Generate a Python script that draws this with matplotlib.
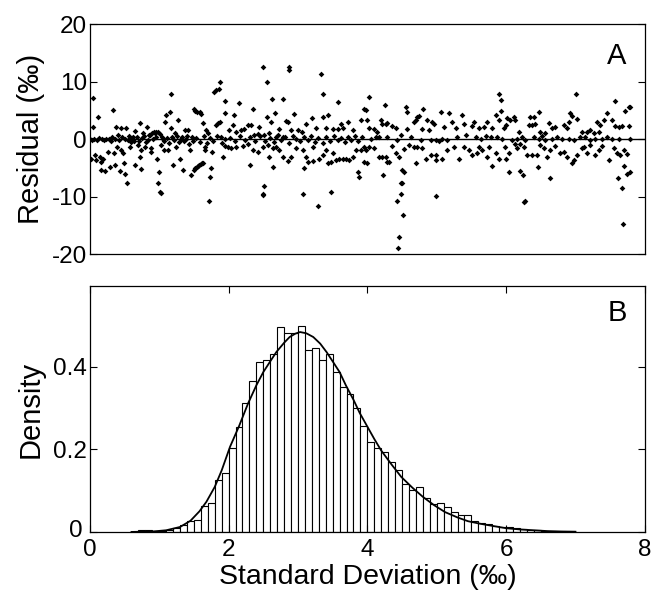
import numpy as np
import matplotlib
matplotlib.use("Agg")
import matplotlib.pyplot as plt
import matplotlib.transforms as mtransforms

plt.rcParams['font.family'] = ['Liberation Sans', 'DejaVu Sans']
plt.rcParams['axes.unicode_minus'] = False

# ---- panel A: residuals (sample number, residual in permil) ----
seg1 = [(3, 7.2), (3, 2.1), (8, 3.9), (1, -3.4), (5, -2.8), (6, -3.6), (10, -3.1), (11, -3.9),
        (13, -3.4), (11, -5.4), (15, -5.5), (18, -2.2), (20, -4.8), (23, 5.0), (25, -4.5),
        (24, -2.5), (26, 2.1), (28, 0.7), (27, -1.3), (30, -5.6), (31, 1.9), (31, -1.9),
        (33, -2.5), (34, -4.1), (35, -6.0), (36, 2.0), (37, -7.7), (38, -0.2), (40, -1.3),
        (41, -0.5), (43, 0.4), (45, -4.5), (45, 1.4), (48, -1.0), (50, 2.8), (50, -3.1),
        (51, -1.9), (51, -5.2), (53, 1.0), (55, -1.3), (57, 2.1), (58, -0.2), (60, 0.7),
        (61, -1.6), (61, -2.2), (63, 0.0), (65, 1.1), (66, 0.4), (67, -3.4), (68, -7.6),
        (69, -5.7), (70, -9.2), (71, -9.4), (71, -1.0), (73, 0.0), (74, -1.9), (75, 3.0),
        (76, 4.2), (78, -1.9), (80, 4.8), (81, 7.9), (81, 1.9), (83, -4.5), (85, 1.0),
        (86, -1.3), (88, 3.3), (90, -3.4), (91, 0.1), (93, -5.4), (95, 1.6), (96, 0.1),
        (98, 1.6), (100, -1.9), (101, -6.3), (104, -5.3), (105, -5.1), (107, -4.9),
        (108, -4.7), (109, -4.5), (111, -4.3), (112, -4.2), (113, -4.1), (104, 5.3),
        (105, 4.9), (107, 4.8), (110, 4.8), (111, 4.3), (113, 2.8), (115, -1.3), (116, 1.6),
        (115, -1.9), (118, 1.0), (119, -10.8), (120, -6.6), (121, -5.1), (122, -2.2),
        (124, 8.2), (126, 8.6), (129, 8.8), (130, 10.0), (126, 2.4), (128, 2.8), (130, 3.0),
        (131, 0.4), (133, -3.1), (135, 6.6), (135, 4.5), (135, 0.0), (135, -1.2)]

band1 = [(0, 0.0), (2, -0.2), (4, 0.1), (7, -0.1), (9, 0.2), (12, 0.0), (14, -0.2), (16, 0.1),
         (19, 0.0), (21, -0.3), (22, 0.3), (25, 0.1), (29, -0.2), (32, 0.3), (35, 0.1),
         (39, 0.5), (42, 0.2), (44, -0.4), (47, 0.3), (49, -0.4), (52, 0.2), (54, 0.6),
         (56, -0.5), (59, 0.8), (62, 1.0), (64, 1.2), (66, 1.3), (68, 1.2), (70, 0.9),
         (72, 0.4), (74, -0.3), (77, 0.2), (79, -0.6), (82, 0.3), (84, -0.2), (87, 0.6),
         (89, -0.5), (92, 0.4), (94, -0.3), (97, 0.5), (99, -0.8), (102, 0.3), (103, -0.4),
         (106, 0.2), (110, -0.5), (114, 0.5), (117, -0.6), (120, 0.2), (123, -0.4),
         (127, 0.5), (132, -0.7)]

seg2 = [(173, 12.5), (199, 12.5), (199, 12.1), (177, 9.9), (182, 7.0), (193, 7.0), (231, 11.4),
        (233, 7.9), (248, 6.5), (149, 6.2), (163, 5.2), (144, 4.2), (185, 4.5), (204, 4.3),
        (222, 3.7), (233, 3.9), (238, 4.2), (177, 3.8), (181, 3.0), (196, 3.1), (198, 3.0),
        (216, 2.7), (251, 2.7), (258, 3.0), (271, 3.3), (274, 5.2), (143, 2.4), (158, 2.4),
        (161, 2.4), (169, 2.1), (189, 1.7), (201, 1.5), (208, 1.5), (212, 1.3), (226, 2.0),
        (236, 2.0), (243, 1.7), (248, 1.7), (253, 2.0), (263, 1.6), (139, 1.5), (146, 1.3),
        (151, 1.6), (154, 1.7), (164, 0.7), (168, 0.9), (174, 0.7), (179, 1.0), (186, 0.4),
        (193, 0.4), (138, -1.3), (141, -1.6), (146, -1.3), (153, -1.2), (158, -0.8),
        (163, -1.9), (168, -2.2), (173, -1.3), (178, -1.0), (183, -1.6), (186, -1.3),
        (189, -1.9), (179, -3.1), (193, -3.1), (201, -3.1), (198, -3.8), (206, -1.6),
        (213, -1.9), (216, -3.1), (218, -3.9), (223, -1.3), (223, -3.8), (229, -3.4),
        (233, -2.8), (236, -1.9), (238, -4.2), (243, -2.5), (241, -3.9), (246, -3.7),
        (249, -3.4), (253, -3.4), (256, -3.4), (259, -3.7), (263, -3.1), (266, -1.9),
        (268, -5.7), (269, -6.6), (271, -1.9), (274, -1.3), (160, -4.5), (183, -4.8),
        (214, -5.1), (174, -8.1), (173, -9.5), (173, -9.7), (213, -9.5), (228, -11.6),
        (241, -9.2), (274, -3.9)]

band2 = [(140, 0.2), (145, -0.3), (150, 0.5), (155, -0.2), (160, 0.3), (165, -0.4), (170, 0.6),
         (175, -0.3), (180, 0.2), (184, -0.5), (188, 0.8), (191, -0.2), (195, 0.3), (199, -0.6),
         (203, 0.5), (206, 0.1), (210, -0.4), (214, 0.3), (218, -0.2), (221, 0.6), (225, -0.5),
         (228, 0.2), (233, -0.6), (236, 0.4), (240, -0.3), (244, 0.5), (248, -0.2), (251, 0.2),
         (255, -0.5), (258, 0.4), (261, -0.2), (265, 0.6), (268, -0.4), (272, 0.3)]

seg3 = [(279, 7.3), (295, 5.9), (276, 5.0), (277, 3.3), (291, 3.4), (292, 2.7), (296, 2.7),
        (297, 2.8), (316, 5.6), (317, 4.8), (333, 5.2), (351, 4.8), (359, 4.5), (372, 4.2),
        (409, 7.9), (411, 6.8), (406, 4.2), (411, 4.9), (324, 3.0), (327, 3.9), (329, 4.0),
        (326, 3.3), (337, 3.3), (342, 3.0), (344, 2.7), (354, 2.1), (362, 3.0), (366, 1.9),
        (374, 2.7), (382, 2.3), (384, 3.0), (389, 2.0), (394, 2.1), (397, 3.0), (402, 2.0),
        (409, 3.3), (279, 1.9), (284, 1.7), (287, 1.3), (302, 2.3), (306, 1.9), (317, 1.7),
        (332, 1.7), (339, 1.5), (281, 0.1), (286, 0.4), (289, 0.3), (297, 0.4), (307, -0.2),
        (311, 0.7), (321, 0.4), (331, -0.2), (341, -0.1), (346, -0.2), (349, -0.3),
        (352, 0.1), (357, -0.1), (367, 0.4), (376, 0.7), (386, 0.4), (391, 0.1), (396, 0.5),
        (401, 0.3), (407, 0.4), (276, -1.9), (279, -1.3), (284, -1.6), (289, -3.1),
        (292, -3.1), (296, -3.2), (297, -3.9), (302, -1.2), (306, -2.5), (309, -3.1),
        (314, -1.8), (319, -1.0), (324, -1.3), (327, -1.3), (332, -1.5), (336, -3.5),
        (341, -2.8), (346, -2.8), (346, -3.7), (352, -3.4), (357, -1.9), (364, -1.3),
        (369, -3.4), (374, -1.3), (379, -1.9), (382, -2.8), (387, -2.5), (389, -1.3),
        (392, -1.9), (397, -3.1), (399, -1.3), (402, -4.7), (406, -2.5), (409, -3.4),
        (277, -4.1), (299, -3.9), (326, -4.1), (293, -6.3), (312, -5.3), (314, -5.7),
        (311, -7.7), (312, -7.7), (311, -9.5), (307, -10.7), (346, -9.9), (308, -19.0),
        (309, -17.0), (313, -13.2)]

seg4 = [(486, 7.8), (525, 6.7), (539, 5.6), (540, 5.6), (535, 4.9), (449, 4.8), (417, 3.6),
        (420, 3.3), (424, 3.8), (425, 3.3), (440, 3.9), (444, 3.9), (480, 4.5), (482, 4.0),
        (487, 3.5), (517, 4.6), (522, 3.3), (525, 2.3), (529, 2.1), (532, 2.3), (539, 2.3),
        (459, 2.8), (462, 1.9), (465, 2.1), (474, 2.4), (477, 1.9), (479, 3.0), (507, 3.0),
        (510, 2.4), (514, 3.4), (414, 2.0), (416, 2.4), (429, 1.3), (439, 2.4), (442, 2.4),
        (445, 2.6), (450, 1.3), (455, 1.0), (492, 1.3), (497, 1.3), (500, 1.5), (504, 1.0),
        (509, 1.3), (412, 0.0), (422, -0.2), (427, 0.0), (432, 0.3), (435, -0.2), (444, 0.4),
        (449, 0.1), (452, 0.5), (455, -0.2), (462, 0.1), (467, 0.4), (472, 0.1), (479, 0.0),
        (484, -0.2), (490, 0.4), (495, 0.3), (500, -0.1), (505, 0.1), (512, 0.0), (517, 0.3),
        (522, 0.1), (529, 0.0), (540, 0.0), (415, -1.3), (419, -2.5), (425, -0.8),
        (427, -1.6), (430, -0.8), (434, -1.3), (437, -2.8), (442, -2.8), (447, -2.8),
        (450, -1.0), (454, -1.5), (457, -3.1), (460, -1.9), (465, -1.2), (470, -2.5),
        (474, -2.2), (477, -3.1), (482, -4.1), (484, -3.7), (487, -2.8), (492, -1.6),
        (494, -1.3), (497, -2.5), (500, -1.0), (505, -2.8), (509, -1.9), (512, -1.2),
        (519, -3.7), (524, -1.6), (527, -2.5), (530, -2.8), (534, -1.9), (537, -2.6),
        (416, -3.4), (419, -5.7), (430, -5.5), (433, -6.3), (448, -4.9), (460, -6.8),
        (534, -4.6), (537, -6.0), (540, -5.8), (528, -6.8), (532, -8.5), (434, -10.9),
        (435, -10.7), (533, -14.7)]

# ---- panel B: histogram of standard deviation (permil) and fitted density ----
bin_left = [0.7, 0.8, 0.9, 1.0, 1.1, 1.2, 1.3, 1.4, 1.5, 1.6, 1.7, 1.8, 1.9, 2.0, 2.1, 2.2,
            2.3, 2.4, 2.5, 2.6, 2.7, 2.8, 2.9, 3.0, 3.1, 3.2, 3.3, 3.4, 3.5, 3.6, 3.7, 3.8,
            3.9, 4.0, 4.1, 4.2, 4.3, 4.4, 4.5, 4.6, 4.7, 4.8, 4.9, 5.0, 5.1, 5.2, 5.3, 5.4,
            5.5, 5.6, 5.7, 5.8, 5.9, 6.0, 6.1, 6.2, 6.3, 6.4, 6.5, 6.6, 6.7, 6.8, 6.9]
density = [0.004, 0.004, 0.002, 0.002, 0.005, 0.010, 0.016, 0.026, 0.028, 0.062, 0.071, 0.126,
           0.142, 0.204, 0.254, 0.313, 0.365, 0.411, 0.417, 0.432, 0.496, 0.482, 0.482, 0.498,
           0.440, 0.446, 0.417, 0.432, 0.387, 0.351, 0.335, 0.299, 0.257, 0.218, 0.204, 0.194,
           0.170, 0.151, 0.117, 0.101, 0.109, 0.083, 0.068, 0.070, 0.060, 0.048, 0.040, 0.040,
           0.026, 0.022, 0.018, 0.015, 0.013, 0.011, 0.009, 0.007, 0.005, 0.004, 0.003, 0.003,
           0.002, 0.002, 0.002]

fit_x = [0.6, 0.9, 1.1, 1.3, 1.45, 1.58, 1.68, 1.8, 1.9, 2.02, 2.15, 2.28, 2.4, 2.5, 2.6,
         2.69, 2.8, 2.88, 2.96, 3.03, 3.12, 3.22, 3.32, 3.41, 3.5, 3.6, 3.69, 3.8, 3.89, 4.0,
         4.1, 4.2, 4.35, 4.49, 4.65, 4.8, 4.96, 5.12, 5.3, 5.45, 5.62, 5.79, 6.0, 6.2, 6.4,
         6.6, 6.8, 7.0]
fit_y = [0.0, 0.001, 0.004, 0.012, 0.027, 0.050, 0.073, 0.109, 0.149, 0.206, 0.256, 0.311,
         0.355, 0.387, 0.413, 0.436, 0.458, 0.472, 0.480, 0.484, 0.481, 0.472, 0.456, 0.436,
         0.413, 0.387, 0.355, 0.320, 0.288, 0.255, 0.225, 0.197, 0.163, 0.133, 0.107, 0.085,
         0.065, 0.048, 0.035, 0.026, 0.020, 0.015, 0.009, 0.006, 0.004, 0.002, 0.001, 0.0005]

pts = np.array(seg1 + band1 + seg2 + band2 + seg3 + seg4)

fig = plt.figure(figsize=(6.56, 5.97), dpi=100)
axA = fig.add_axes([0.137, 0.5745, 0.846, 0.385])
axB = fig.add_axes([0.137, 0.109, 0.846, 0.4116])

# panel A
axA.axhline(0, color='black', lw=1.0, zorder=1)
axA.plot(pts[:, 0], pts[:, 1], 'D', color='black', ms=2.9, mew=0, zorder=2)
axA.set_xlim(0, 555)
axA.set_ylim(-20, 20)
axA.set_yticks([-20, -10, 0, 10, 20])
axA.set_xticks([])
axA.set_ylabel('Residual (‰)', fontsize=21, labelpad=5)
axA.text(0.967, 0.86, 'A', transform=axA.transAxes, ha='right', va='center', fontsize=21)

# panel B
axB.bar(bin_left, density, width=0.1, align='edge', color='white', edgecolor='black', lw=0.8)
axB.plot(fit_x, fit_y, color='black', lw=1.3)
axB.set_xlim(0, 8)
axB.set_ylim(0, 0.595)
axB.set_xticks([0, 2, 4, 6, 8])
axB.set_yticks([0, 0.2, 0.4])
axB.set_yticklabels(['0', '0.2', '0.4'])
axB.set_xlabel('Standard Deviation (‰)', fontsize=20.5, labelpad=2)
axB.set_ylabel('Density', fontsize=21, labelpad=6)
axB.text(0.967, 0.89, 'B', transform=axB.transAxes, ha='right', va='center', fontsize=21)

for ax in (axA, axB):
    ax.tick_params(direction='in', top=True, right=True, labelsize=17.5, length=5, width=0.8,
                   pad=2)
    for s in ax.spines.values():
        s.set_linewidth(0.9)
axB.tick_params(axis='x', pad=5)

# nudge the y "0" of panel B so it does not collide with the x "0" in the corner
zero_lbl = axB.get_yticklabels()[0]
zero_lbl.set_transform(zero_lbl.get_transform()
                       + mtransforms.ScaledTranslation(-0.04, 0.03, fig.dpi_scale_trans))

fig.savefig('out.png', dpi=100)
